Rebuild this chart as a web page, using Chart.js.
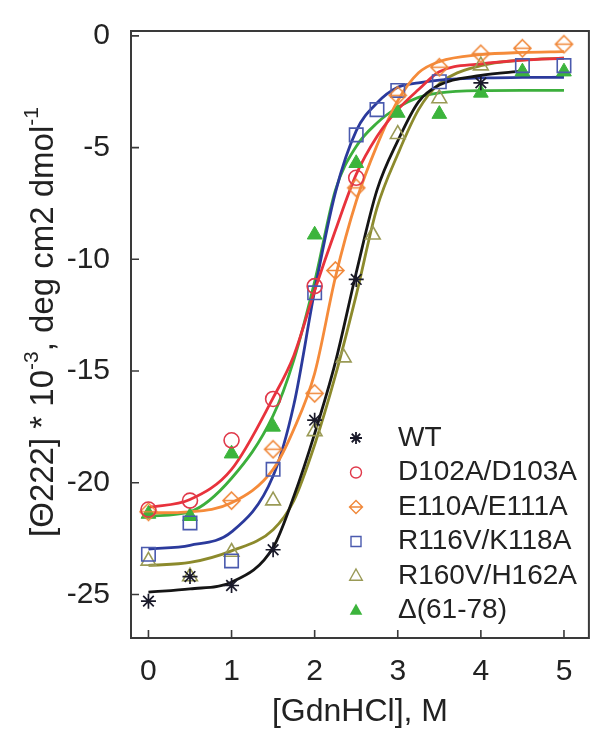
<!DOCTYPE html>
<html>
<head>
<meta charset="utf-8">
<script src="https://cdn.jsdelivr.net/npm/chart.js@4.4.0/dist/chart.umd.min.js"></script>
<style>
  html, body { margin: 0; padding: 0; background: #fff; }
</style>
</head>
<body>
<canvas id="grafico" width="600" height="731"></canvas>
<script>
// --- datos ---
const nombres = ['WT', 'D102A/D103A', 'E110A/E111A', 'R116V/K118A', 'R160V/H162A', 'Δ(61-78)'];

const xTicks = [0, 1, 2, 3, 4, 5];
const yTicks = [0, -5, -10, -15, -20, -25];

// puntos medidos
const wtX = [0, 0.5, 1, 1.5, 2, 2.5, 4];
const wtY = [-25.3, -24.2, -24.6, -23.0, -17.2, -10.9, -2.1];
const d102X = [0, 0.5, 1, 1.5, 2, 2.5];
const d102Y = [-21.2, -20.8, -18.1, -16.25, -11.2, -6.35];
const e110X = [0, 1, 1.5, 2, 2.25, 2.5, 3, 3.5, 4, 4.5, 5];
const e110Y = [-21.3, -20.8, -18.5, -16.0, -10.5, -6.8, -2.66, -1.4, -0.8, -0.55, -0.37];
const r116X = [0, 0.5, 1, 1.5, 2, 2.5, 2.75, 3, 3.5, 4.5, 5];
const r116Y = [-23.2, -21.8, -23.5, -19.4, -11.5, -4.43, -3.3, -2.44, -2.05, -1.33, -1.33];
const r160X = [0, 0.5, 1, 1.5, 2, 2.35, 2.7, 3, 3.5, 4];
const r160Y = [-23.5, -24.2, -23.1, -20.8, -17.7, -14.4, -8.9, -4.4, -2.8, -1.33];
const delX = [0, 0.5, 1, 1.5, 2, 2.5, 3, 3.5, 4, 4.5, 5];
const delY = [-21.4, -21.5, -18.7, -17.5, -8.9, -5.7, -3.45, -3.5, -2.55, -1.6, -1.6];

// curvas de ajuste
const ajusteX = [0, 0.5, 1, 1.5, 1.75, 2, 2.25, 2.5, 2.75, 3, 3.25, 3.5, 4, 4.5, 5];
const wtAjuste = [-24.9, -24.75, -24.45, -22.9, -20.6, -17.8, -14.6, -10.6, -6.9, -4.7, -2.95, -2.2, -1.77, -1.58];
const d102Ajuste = [-21.1, -20.75, -19.4, -16.2, -14.3, -11.4, -8.7, -6.2, -4.5, -3.3, -2.4, -1.6, -1.25, -1.08, -1.0];
const e110Ajuste = [-21.35, -21.3, -20.9, -19.4, -17.6, -15.1, -10.8, -7.4, -4.9, -2.9, -1.65, -1.15, -0.84, -0.74, -0.7];
const r116Ajuste = [-22.97, -22.8, -22.2, -19.7, -16.5, -11.4, -7.0, -4.25, -3.0, -2.3, -2.1, -1.98, -1.88, -1.86, -1.85];
const r160Ajuste = [-23.7, -23.57, -23.05, -22.1, -20.8, -18.3, -15.2, -11.6, -7.7, -5.3, -3.3, -2.14, -1.33, -1.08, -0.99];
const delAjuste = [-21.5, -21.3, -19.8, -17.0, -14.5, -11.0, -6.9, -4.95, -3.9, -3.2, -2.75, -2.55, -2.45, -2.44, -2.44];

// colores
const colorLinea = ['#151515', '#e8323c', '#f58b3a', '#2b3a9c', '#8c8a2c', '#3caf3c'];
const colorMarca = ['#1a1a2a', '#e0394a', '#f0883a', '#4a5aae', '#9a9a56', '#3cb43c'];

Chart.defaults.font.family = '"Liberation Sans", Arial, sans-serif';

// rombo con barra horizontal (marcador de E110A/E111A)
function hacerRombo(color, h) {
  const c = document.createElement('canvas');
  c.width = 2 * h + 4; c.height = 2 * h + 4;
  const g = c.getContext('2d');
  const m = h + 2;
  g.strokeStyle = color; g.lineWidth = 1.6;
  g.beginPath();
  g.moveTo(m, m - h); g.lineTo(m + h, m); g.lineTo(m, m + h); g.lineTo(m - h, m); g.closePath();
  g.moveTo(m - h, m); g.lineTo(m + h, m);
  g.stroke();
  return c;
}
const romboGrande = hacerRombo(colorMarca[2], 8.5);

function pares(xs, ys) { return ys.map((v, i) => ({ x: xs[i], y: v })); }

const puntos = [
  { data: pares(wtX, wtY), pointStyle: 'star', pointRadius: 7.5, pointBorderWidth: 1.7, bg: 'transparent' },
  { data: pares(d102X, d102Y), pointStyle: 'circle', pointRadius: 7.5, pointBorderWidth: 1.6, bg: 'transparent' },
  { data: pares(e110X, e110Y), pointStyle: romboGrande, pointRadius: 8, pointBorderWidth: 1.6, bg: 'transparent' },
  { data: pares(r116X, r116Y), pointStyle: 'rect', pointRadius: 9.5, pointBorderWidth: 1.6, bg: 'transparent' },
  { data: pares(r160X, r160Y), pointStyle: 'triangle', pointRadius: 8.5, pointBorderWidth: 1.6, bg: 'transparent' },
  { data: pares(delX, delY), pointStyle: 'triangle', pointRadius: 8.5, pointBorderWidth: 1, bg: colorMarca[5] }
];
const ajustes = [wtAjuste, d102Ajuste, e110Ajuste, r116Ajuste, r160Ajuste, delAjuste];

const datasets = [];
puntos.forEach((p, i) => {
  datasets.push({
    label: nombres[i],
    data: p.data,
    showLine: false,
    pointStyle: p.pointStyle,
    pointRadius: p.pointRadius,
    pointBorderWidth: p.pointBorderWidth,
    pointBorderColor: colorMarca[i],
    pointBackgroundColor: p.bg,
    order: 0
  });
});
ajustes.forEach((a, i) => {
  datasets.push({
    label: nombres[i] + ' ajuste',
    data: pares(ajusteX, a),
    showLine: true,
    pointRadius: 0,
    borderColor: colorLinea[i],
    borderWidth: 2.8,
    cubicInterpolationMode: 'monotone',
    order: 1
  });
});

// marcadores pequeños de la leyenda
function marcaLeyenda(ctx, i, x, y) {
  const col = colorMarca[i];
  ctx.save();
  ctx.strokeStyle = col; ctx.fillStyle = col; ctx.lineWidth = 1.4;
  ctx.beginPath();
  if (i === 0) {
    const r = 6;
    for (let k = 0; k < 4; k++) {
      const a = k * Math.PI / 4;
      ctx.moveTo(x - r * Math.cos(a), y - r * Math.sin(a));
      ctx.lineTo(x + r * Math.cos(a), y + r * Math.sin(a));
    }
    ctx.lineWidth = 1.8;
    ctx.stroke();
  } else if (i === 1) {
    ctx.arc(x, y, 5.5, 0, Math.PI * 2); ctx.stroke();
  } else if (i === 2) {
    const h = 6.5;
    ctx.moveTo(x, y - h); ctx.lineTo(x + h, y); ctx.lineTo(x, y + h); ctx.lineTo(x - h, y); ctx.closePath();
    ctx.moveTo(x - h, y); ctx.lineTo(x + h, y); ctx.stroke();
  } else if (i === 3) {
    ctx.rect(x - 5, y - 5, 10, 10); ctx.stroke();
  } else {
    const r = 7;
    ctx.moveTo(x, y - r); ctx.lineTo(x + r * 0.9, y + r * 0.6); ctx.lineTo(x - r * 0.9, y + r * 0.6); ctx.closePath();
    if (i === 5) ctx.fill(); else ctx.stroke();
  }
  ctx.restore();
}

const marcoPlugin = {
  id: 'marco',
  afterDraw(chart) {
    const { ctx, chartArea: a, scales } = chart;
    const sx = scales.x, sy = scales.y;
    ctx.save();
    // caja del grafico
    ctx.strokeStyle = '#3a3a3a'; ctx.lineWidth = 2;
    ctx.strokeRect(a.left, a.top, a.right - a.left, a.bottom - a.top);
    // marcas hacia dentro
    ctx.lineWidth = 1.6;
    ctx.beginPath();
    sx.ticks.forEach(t => {
      const px = sx.getPixelForValue(t.value);
      ctx.moveTo(px, a.bottom); ctx.lineTo(px, a.bottom - 8);
    });
    sy.ticks.forEach(t => {
      const py = sy.getPixelForValue(t.value);
      ctx.moveTo(a.left, py); ctx.lineTo(a.left + 8, py);
    });
    ctx.stroke();

    // leyenda
    ctx.font = '28px "Liberation Sans", Arial, sans-serif';
    ctx.fillStyle = '#222';
    ctx.textBaseline = 'middle';
    ctx.textAlign = 'left';
    nombres.forEach((n, i) => {
      const ly = 438 + i * 34.5;
      marcaLeyenda(ctx, i, 356, ly);
      ctx.fillStyle = '#222';
      ctx.fillText(n, 398, ly);
    });

    // titulo eje x
    ctx.font = '32px "Liberation Sans", Arial, sans-serif';
    ctx.textAlign = 'center';
    ctx.fillText('[GdnHCl], M', (a.left + a.right) / 2, 712);

    // titulo eje y con superindices
    const partes = [
      { t: '[Θ222] * 10', s: 33, up: 0 },
      { t: '-3', s: 21, up: 12 },
      { t: ', deg cm2 dmol', s: 33, up: 0 },
      { t: '-1', s: 21, up: 12 }
    ];
    let total = 0;
    partes.forEach(p => {
      ctx.font = p.s + 'px "Liberation Sans", Arial, sans-serif';
      p.w = ctx.measureText(p.t).width;
      total += p.w;
    });
    ctx.translate(44, 322);
    ctx.rotate(-Math.PI / 2);
    ctx.textAlign = 'left';
    let cx = -total / 2;
    partes.forEach(p => {
      ctx.font = p.s + 'px "Liberation Sans", Arial, sans-serif';
      ctx.fillText(p.t, cx, -p.up);
      cx += p.w;
    });
    ctx.restore();
  }
};

new Chart(document.getElementById('grafico'), {
  type: 'scatter',
  data: { datasets: datasets },
  options: {
    responsive: false,
    animation: false,
    devicePixelRatio: 1,
    layout: { padding: { top: 25, right: 10, left: 0, bottom: 0 } },
    plugins: { legend: { display: false }, tooltip: { enabled: false } },
    scales: {
      x: {
        type: 'linear',
        min: -0.21,
        max: 5.3,
        grid: { display: false },
        border: { display: false },
        afterBuildTicks: s => { s.ticks = xTicks.map(v => ({ value: v })); },
        afterFit: s => { s.height = 93; },
        ticks: { color: '#222', font: { size: 30 }, padding: 8, maxRotation: 0 }
      },
      y: {
        type: 'linear',
        min: -26.95,
        max: 0.22,
        grid: { display: false },
        border: { display: false },
        afterBuildTicks: s => { s.ticks = yTicks.map(v => ({ value: v })); },
        afterFit: s => { s.width = 131; },
        ticks: { color: '#222', font: { size: 30 }, padding: 13 }
      }
    }
  },
  plugins: [marcoPlugin]
});
</script>
</body>
</html>
